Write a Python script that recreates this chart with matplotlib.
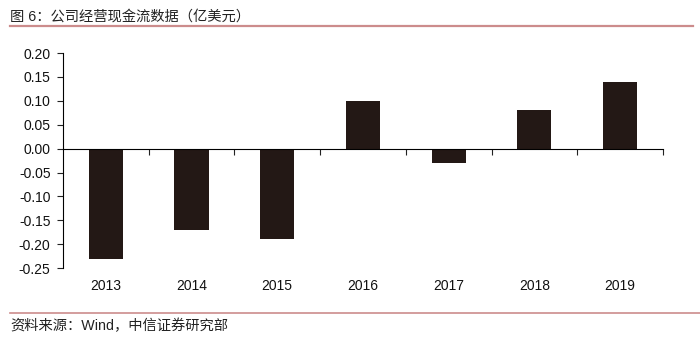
import matplotlib.pyplot as plt
from matplotlib.lines import Line2D

years = ['2013', '2014', '2015', '2016', '2017', '2018', '2019']
cash_flow = [-0.23, -0.17, -0.19, 0.10, -0.03, 0.08, 0.14]
y_ticks = [0.20, 0.15, 0.10, 0.05, 0.00, -0.05, -0.10, -0.15, -0.20, -0.25]

title = '图 6：公司经营现金流数据（亿美元）'
source = '资料来源：Wind，中信证券研究部'

plt.rcParams['font.family'] = ['Liberation Sans', 'Noto Sans CJK SC']

fig = plt.figure(figsize=(7, 3.42), dpi=100)
ax = fig.add_axes([0.09, 0.216, 0.857, 0.629])

x = list(range(len(years)))
ax.bar(x, cash_flow, width=0.4, color='#231815', zorder=2)

ax.set_xlim(-0.5, len(years) - 0.5)
ax.set_ylim(-0.25, 0.20)
ax.set_yticks(y_ticks)
ax.set_yticklabels(['%.2f' % v for v in y_ticks], fontsize=10, color='#111111')
ax.tick_params(axis='y', direction='out', length=4, width=0.8, pad=5, color='#222222')

# x axis sits on zero, ticks at category boundaries
ax.spines['top'].set_visible(False)
ax.spines['right'].set_visible(False)
ax.spines['bottom'].set_position(('data', 0))
ax.spines['bottom'].set_linewidth(0.8)
ax.spines['left'].set_linewidth(0.8)
ax.set_xticks([i + 0.5 for i in x])
ax.set_xticklabels([])
ax.tick_params(axis='x', direction='out', length=4, width=0.8, color='#222222')

# year labels below the plot
for i, yr in zip(x, years):
    ax.annotate(yr, (i, 0), xycoords=ax.get_xaxis_transform(),
                xytext=(0, -11), textcoords='offset pixels',
                ha='center', va='top', fontsize=10, color='#111111')

fig.text(10 / 700, 1 - 17 / 342, title, fontsize=10.3, color='#222222',
         ha='left', va='center')
fig.add_artist(Line2D([10 / 700, 693 / 700], [1 - 26 / 342, 1 - 26 / 342],
                      color='#cc8c8c', linewidth=1.6, transform=fig.transFigure))
fig.add_artist(Line2D([10 / 700, 1.0], [1 - 313 / 342, 1 - 313 / 342],
                      color='#cc8c8c', linewidth=1.2, transform=fig.transFigure))
fig.text(10 / 700, 1 - 326 / 342, source, fontsize=10.3, color='#222222',
         ha='left', va='center')

plt.savefig('out.png', dpi=100)
